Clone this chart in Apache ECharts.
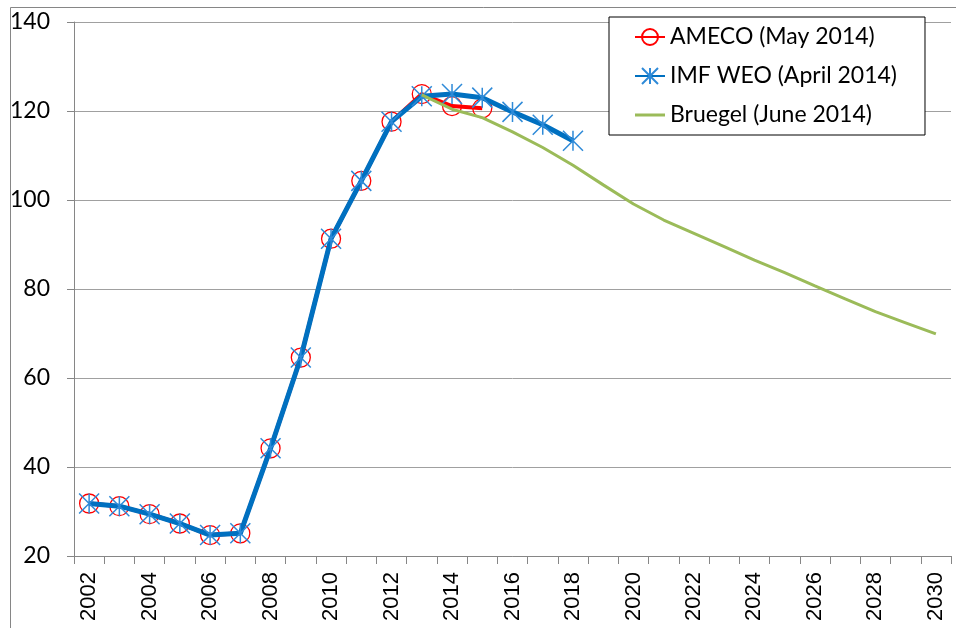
<!DOCTYPE html>
<html>
<head>
<meta charset="utf-8">
<script src="https://cdn.jsdelivr.net/npm/echarts@6/dist/echarts.min.js"></script>
<style>html,body{margin:0;padding:0;background:#fff}#c{width:956px;height:628px}</style>
</head>
<body>
<div id="c"></div>
<script>
var years = [];
for (var y = 2002; y <= 2030; y++) years.push(String(y));

var ameco = [31.8, 31.2, 29.4, 27.3, 24.7, 25.1, 44.2, 64.6, 91.3, 104.3, 117.6, 123.8, 121.1, 120.6,
  null, null, null, null, null, null, null, null, null, null, null, null, null, null, null];
var imf = [31.8, 31.2, 29.4, 27.3, 24.7, 25.1, 44.2, 64.6, 91.3, 104.3, 117.6, 123.3, 123.8, 123.0,
  119.8, 116.9, 113.3, null, null, null, null, null, null, null, null, null, null, null, null];
var bruegel = [null, null, null, null, null, null, null, null, null, null, null, 123.6, 120.4, 118.5,
  115.3, 111.8, 107.8, 103.4, 99.1, 95.5, 92.5, 89.5, 86.5, 83.7, 80.7, 77.8, 74.9, 72.4, 69.9];
var yTicks = { min: 20, max: 140, step: 20 };

var chart = echarts.init(document.getElementById('c'));
var star = 'path://M0,0L10,10M10,0L0,10M5,0L5,10';
chart.setOption({
  animation: false,
  graphic: [{
    type: 'rect', left: 8, top: 5, silent: true, z: -10,
    shape: { width: 980, height: 621 },
    style: { fill: 'none', stroke: '#868686', lineWidth: 1 }
  }],
  grid: { left: 74, right: 5, top: 22, bottom: 72, containLabel: false },
  legend: {
    orient: 'vertical', left: 609, top: 17,
    padding: [8, 28, 8, 25],
    itemGap: 15, itemWidth: 30, itemHeight: 20,
    borderColor: '#000', borderWidth: 1, backgroundColor: '#fff',
    textStyle: { fontFamily: 'Lato', fontSize: 23, color: '#000', lineHeight: 24 },
    data: ['AMECO (May 2014)', 'IMF WEO (April 2014)',
      { name: 'Bruegel (June 2014)', icon: 'path://M0,0H30V3H0Z' }]
  },
  xAxis: {
    type: 'category', data: years, boundaryGap: true,
    axisLine: { lineStyle: { color: '#868686', width: 1 } },
    axisTick: { show: true, interval: 0, length: 8, lineStyle: { color: '#868686' } },
    axisLabel: { interval: 1, rotate: 90, margin: 16, color: '#000', fontFamily: 'Liberation Sans', fontSize: 22 },
    splitLine: { show: false }
  },
  yAxis: {
    type: 'value', min: yTicks.min, max: yTicks.max, interval: yTicks.step,
    axisLine: { show: true, lineStyle: { color: '#868686', width: 1 } },
    axisTick: { show: true, length: 7, lineStyle: { color: '#868686' } },
    axisLabel: { margin: 24, color: '#000', fontFamily: 'Lato', fontSize: 23 },
    splitLine: { lineStyle: { color: '#a0a0a0', width: 1 } }
  },
  series: [{
    name: 'AMECO (May 2014)', type: 'line', data: ameco,
    symbol: 'circle', symbolSize: 19, showAllSymbol: true,
    lineStyle: { color: '#ff0000', width: 4 },
    itemStyle: { color: 'rgba(255,255,255,0)', borderColor: '#ff0000', borderWidth: 1.3 },
    z: 2
  }, {
    name: 'IMF WEO (April 2014)', type: 'line', data: imf,
    symbol: star, symbolSize: 20, showAllSymbol: true,
    lineStyle: { color: '#0070c0', width: 5 },
    itemStyle: { color: 'none', borderColor: '#2e8ad8', borderWidth: 1.5 },
    z: 3
  }, {
    name: 'Bruegel (June 2014)', type: 'line', data: bruegel,
    symbol: 'none', showSymbol: false,
    lineStyle: { color: '#9bbb59', width: 3 },
    itemStyle: { color: '#9bbb59' },
    z: 4
  }]
});
</script>
</body>
</html>
